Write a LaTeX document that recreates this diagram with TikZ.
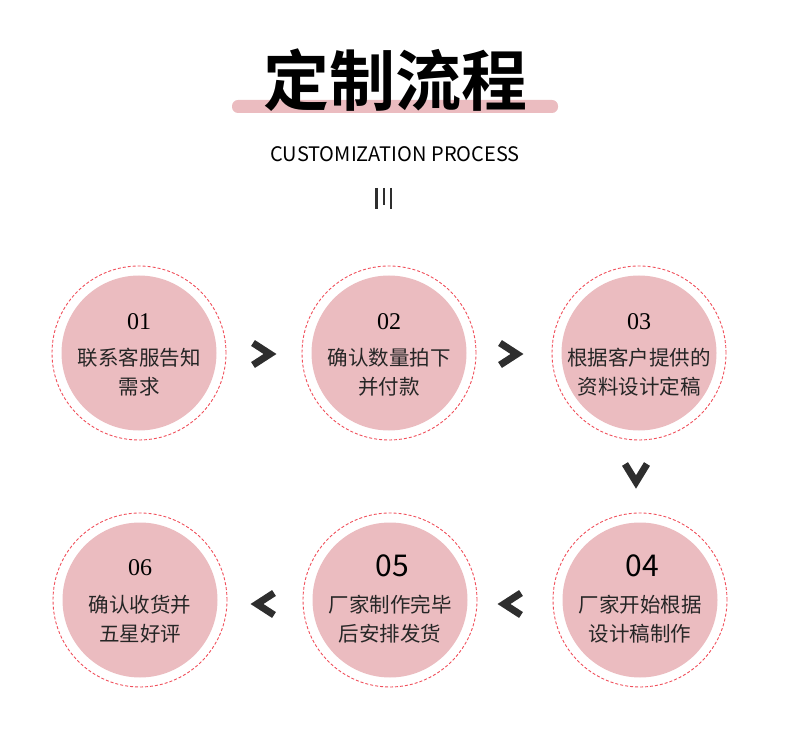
\documentclass[tikz,border=0pt]{standalone}
\usepackage{fontspec}
\newfontfamily\cjk{Noto Sans CJK SC}
\newfontfamily\cjkb{Noto Sans CJK SC Bold}
\newfontfamily\serifn{Liberation Serif}
\definecolor{pinkf}{HTML}{EBBCC0}
\definecolor{dashr}{HTML}{F0505C}
\definecolor{chev}{HTML}{2E2E2E}
\begin{document}
\begin{tikzpicture}[x=1pt,y=-1pt,
  outer/.style={circle,draw=dashr,line width=0.9pt,dash pattern=on 3pt off 2pt,minimum size=174pt,inner sep=0pt},
  inner/.style={circle,fill=pinkf,minimum size=155pt,inner sep=0pt},
  lbl/.style={align=center,font=\cjk\fontsize{20.5}{29}\selectfont,text=black!85},
  chv/.style={draw=chev,line width=7pt,line cap=butt,line join=miter}]
\useasboundingbox (0,0) rectangle (790,751);
\fill[pinkf,rounded corners=6pt] (232,100) rectangle (558,113);
\node (title) at (395,80) {\cjkb\fontsize{66}{66}\selectfont 定制流程};
\node (sub) at (395,154) {\cjk\fontsize{20}{20}\selectfont CUSTOMIZATION PROCESS};
\draw[chev,line width=3.5pt] (376.5,188) -- (376.5,209);
\draw[chev,line width=2.2pt] (384,188) -- (384,205);
\draw[chev,line width=2.8pt] (391,188) -- (391,209);
\foreach \n/\x/\y in {c1/139/353,c2/389/353,c3/639/353,c4/640/600,c5/390/600,c6/140/600}{
  \node[outer] (\n o) at (\x,\y) {};
  \node[inner] (\n) at (\x,\y) {};
}
\node[font=\serifn\fontsize{24}{24}\selectfont] (n1) at (139,322) {01};
\node[lbl] (t1) at (139,372) {联系客服告知\\需求};
\node[font=\serifn\fontsize{24}{24}\selectfont] (n2) at (389,322) {02};
\node[lbl] (t2) at (389,372) {确认数量拍下\\并付款};
\node[font=\serifn\fontsize{24}{24}\selectfont] (n3) at (639,322) {03};
\node[lbl] (t3) at (639,372) {根据客户提供的\\资料设计定稿};
\node[font=\cjk\fontsize{30}{30}\selectfont] (n4) at (642,566) {04};
\node[lbl] (t4) at (640,619) {厂家开始根据\\设计稿制作};
\node[font=\cjk\fontsize{30}{30}\selectfont] (n5) at (392,566) {05};
\node[lbl] (t5) at (390,619) {厂家制作完毕\\后安排发货};
\node[font=\serifn\fontsize{24}{24}\selectfont] (n6) at (140,568) {06};
\node[lbl] (t6) at (140,619) {确认收货并\\五星好评};
\draw[chv] (253,343) -- (270,354) -- (253,365);
\draw[chv] (500,343) -- (517,354) -- (500,365);
\draw[chv] (625,464) -- (636,482) -- (647,464);
\draw[chv] (274,593) -- (257,604) -- (274,615);
\draw[chv] (521,593) -- (504,604) -- (521,615);
\end{tikzpicture}
\end{document}
